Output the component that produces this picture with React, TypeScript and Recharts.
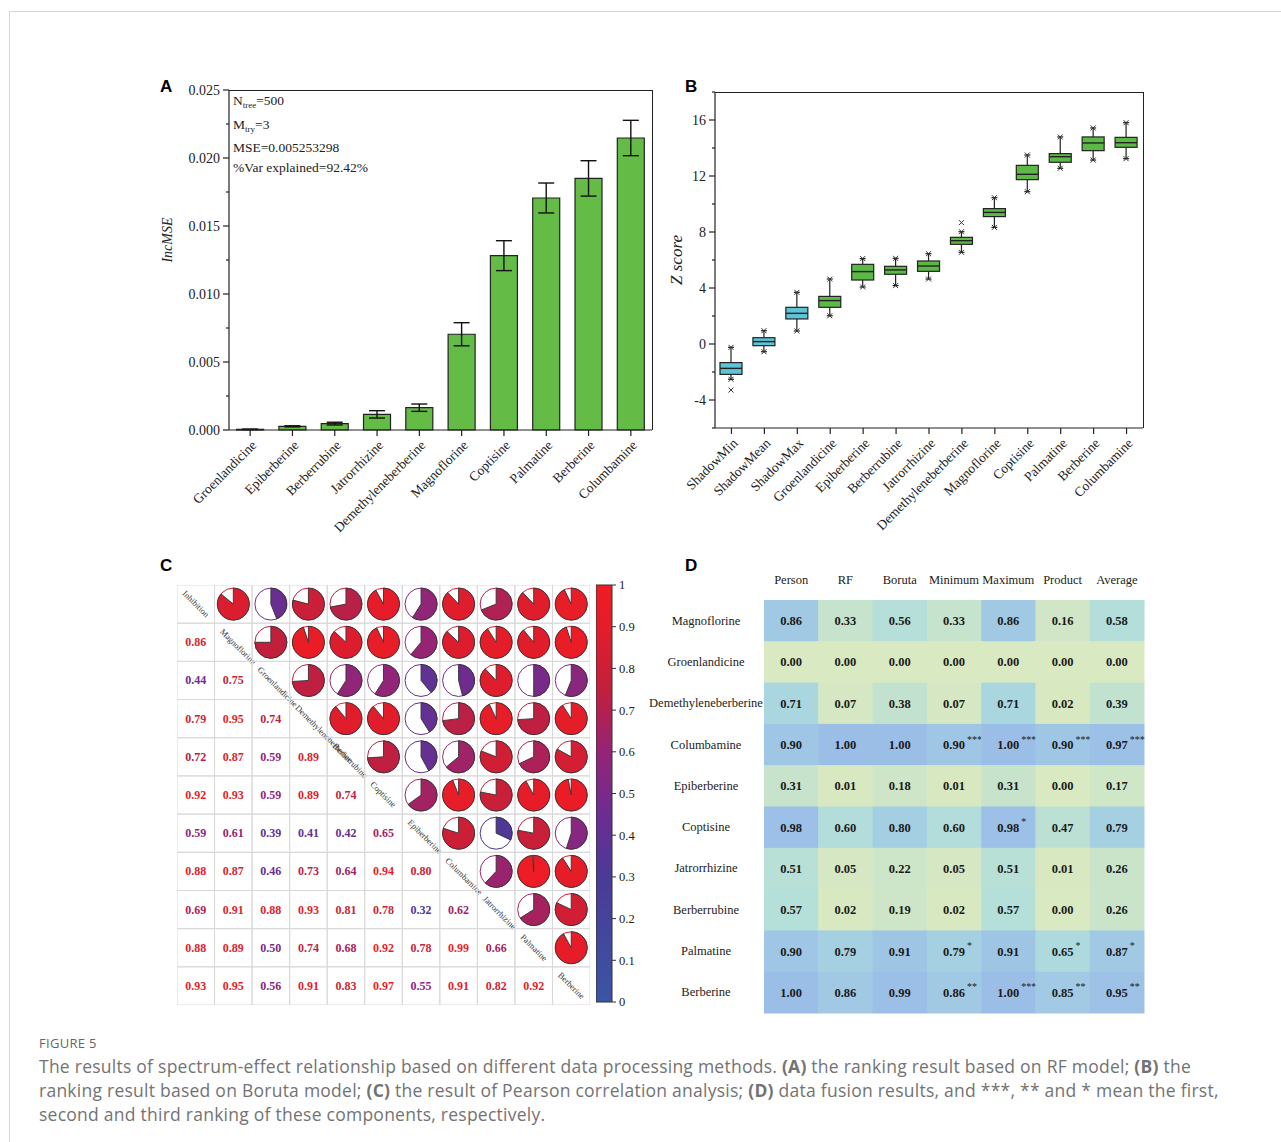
import React from "react";
import {
  BarChart,
  Bar,
  XAxis,
  YAxis,
  ErrorBar,
  ScatterChart,
  Scatter,
  Sector,
} from "recharts";

// ---------- panel A: RF importance ----------
const rfNames = [
  "Groenlandicine", "Epiberberine", "Berberrubine", "Jatrorrhizine", "Demethyleneberberine",
  "Magnoflorine", "Coptisine", "Palmatine", "Berberine", "Columbamine",
];
const rfIncMSE = [0.00005, 0.00027, 0.00047, 0.00115, 0.00164, 0.00704, 0.01282, 0.01706, 0.0185, 0.02147];
const rfError = [0.00001, 0.00004, 0.0001, 0.00027, 0.00027, 0.00085, 0.0011, 0.0011, 0.0013, 0.0013];
const rfTicks = [0, 0.0025, 0.005, 0.0075, 0.01, 0.0125, 0.015, 0.0175, 0.02, 0.0225, 0.025];

// ---------- panel B: Boruta z scores ----------
const borutaNames = [
  "ShadowMin", "ShadowMean", "ShadowMax", "Groenlandicine", "Epiberberine", "Berberrubine",
  "Jatrorrhizine", "Demethyleneberberine", "Magnoflorine", "Coptisine", "Palmatine", "Berberine", "Columbamine",
];
const borutaMin = [-2.52, -0.55, 0.93, 2.02, 4.07, 4.17, 4.64, 6.55, 8.33, 10.88, 12.55, 13.14, 13.24];
const borutaQ1 = [-2.17, -0.12, 1.79, 2.62, 4.57, 4.98, 5.19, 7.12, 9.1, 11.74, 12.98, 13.81, 14.05];
const borutaMedian = [-1.74, 0.17, 2.19, 3.1, 5.17, 5.29, 5.57, 7.38, 9.4, 12.12, 13.38, 14.36, 14.38];
const borutaQ3 = [-1.33, 0.45, 2.62, 3.4, 5.69, 5.55, 5.93, 7.62, 9.67, 12.76, 13.6, 14.79, 14.76];
const borutaMax = [-0.24, 0.95, 3.69, 4.64, 6.1, 6.12, 6.45, 8.02, 10.45, 13.5, 14.79, 15.43, 15.81];
const borutaOutliers = [[-3.29], [], [], [], [], [], [], [8.67], [], [], [], [], []];
const borutaShadow = [true, true, true, false, false, false, false, false, false, false, false, false, false];
const borutaTicks = [-6, -4, -2, 0, 2, 4, 6, 8, 10, 12, 14, 16, 18];

// ---------- panel C: Pearson correlation ----------
const corrNames = [
  "Inhibition", "Magnoflorine", "Groenlandicine", "Demethyleneberberine", "Berberrubine", "Coptisine",
  "Epiberberine", "Columbamine", "Jatrorrhizine", "Palmatine", "Berberine",
];
const corrLower = [
  [],
  [0.86],
  [0.44, 0.75],
  [0.79, 0.95, 0.74],
  [0.72, 0.87, 0.59, 0.89],
  [0.92, 0.93, 0.59, 0.89, 0.74],
  [0.59, 0.61, 0.39, 0.41, 0.42, 0.65],
  [0.88, 0.87, 0.46, 0.73, 0.64, 0.94, 0.8],
  [0.69, 0.91, 0.88, 0.93, 0.81, 0.78, 0.32, 0.62],
  [0.88, 0.89, 0.5, 0.74, 0.68, 0.92, 0.78, 0.99, 0.66],
  [0.93, 0.95, 0.56, 0.91, 0.83, 0.97, 0.55, 0.91, 0.82, 0.92],
];
const colorbarTicks = [0, 0.1, 0.2, 0.3, 0.4, 0.5, 0.6, 0.7, 0.8, 0.9, 1];

// ---------- panel D: data fusion ----------
const fusionCols = ["Person", "RF", "Boruta", "Minimum", "Maximum", "Product", "Average"];
const fusionRows = [
  "Magnoflorine", "Groenlandicine", "Demethyleneberberine", "Columbamine", "Epiberberine",
  "Coptisine", "Jatrorrhizine", "Berberrubine", "Palmatine", "Berberine",
];
const fusionValues = [
  [0.86, 0.33, 0.56, 0.33, 0.86, 0.16, 0.58],
  [0, 0, 0, 0, 0, 0, 0],
  [0.71, 0.07, 0.38, 0.07, 0.71, 0.02, 0.39],
  [0.9, 1.0, 1.0, 0.9, 1.0, 0.9, 0.97],
  [0.31, 0.01, 0.18, 0.01, 0.31, 0.0, 0.17],
  [0.98, 0.6, 0.8, 0.6, 0.98, 0.47, 0.79],
  [0.51, 0.05, 0.22, 0.05, 0.51, 0.01, 0.26],
  [0.57, 0.02, 0.19, 0.02, 0.57, 0.0, 0.26],
  [0.9, 0.79, 0.91, 0.79, 0.91, 0.65, 0.87],
  [1.0, 0.86, 0.99, 0.86, 1.0, 0.85, 0.95],
];
const fusionStars = [
  ["", "", "", "", "", "", ""],
  ["", "", "", "", "", "", ""],
  ["", "", "", "", "", "", ""],
  ["", "", "", "***", "***", "***", "***"],
  ["", "", "", "", "", "", ""],
  ["", "", "", "", "*", "", ""],
  ["", "", "", "", "", "", ""],
  ["", "", "", "", "", "", ""],
  ["", "", "", "*", "", "*", "*"],
  ["", "", "", "**", "***", "**", "**"],
];

const serif = '"Liberation Serif", "Times New Roman", serif';
const sans = '"Liberation Sans", Arial, sans-serif';

const corrStops: [number, string][] = [
  [0, "#3b55a4"], [0.3, "#4b3a98"], [0.45, "#6c2d91"], [0.6, "#942476"],
  [0.75, "#c21f3d"], [0.9, "#e41d2a"], [1, "#ef1c24"],
];
const fusionStops: [number, string][] = [
  [0, "#d9e9c1"], [0.3, "#c8e3cb"], [0.55, "#b6e0d8"], [0.75, "#a7d3e1"], [0.9, "#9fc6e5"], [1, "#9bbee7"],
];

function hex(c: string) {
  return [1, 3, 5].map((i) => parseInt(c.slice(i, i + 2), 16));
}
function colorAt(stops: [number, string][], v: number) {
  for (let k = 1; k < stops.length; k++) {
    if (v <= stops[k][0]) {
      const [a, ca] = stops[k - 1];
      const [b, cb] = stops[k];
      const t = (v - a) / (b - a);
      const A = hex(ca), B = hex(cb);
      return `rgb(${A.map((x, i) => Math.round(x + (B[i] - x) * t)).join(",")})`;
    }
  }
  return stops[stops.length - 1][1];
}

const rfData = rfNames.map((name, i) => ({ name, value: rfIncMSE[i], err: rfError[i] }));
const borutaData = borutaNames.map((name, i) => ({
  name,
  range: [borutaMin[i], borutaMax[i]],
  min: borutaMin[i],
  q1: borutaQ1[i],
  median: borutaMedian[i],
  q3: borutaQ3[i],
  max: borutaMax[i],
  outliers: borutaOutliers[i],
  shadow: borutaShadow[i],
}));

const corrCells: any[] = [];
corrNames.forEach((_, i) =>
  corrNames.forEach((__, j) => {
    const v = i > j ? corrLower[i][j] : i < j ? corrLower[j][i] : 1;
    corrCells.push({ x: j + 0.5, y: i + 0.5, v, kind: i > j ? "text" : i < j ? "pie" : "diag", name: corrNames[i] });
  })
);

const fusionCells: any[] = [];
fusionRows.forEach((r, i) =>
  fusionCols.forEach((c, j) => {
    fusionCells.push({ x: j + 0.5, y: i + 0.5, v: fusionValues[i][j], star: fusionStars[i][j] });
  })
);

// ---------- tick renderers ----------
const LeftTick = (props: any) => {
  const { x, y, payload, step, fmt } = props;
  const major = Math.abs(payload.value / step - Math.round(payload.value / step)) < 1e-6;
  return (
    <g>
      <line x1={x - (major ? 6 : 3)} x2={x} y1={y} y2={y} stroke="#222" strokeWidth={1.2} />
      {major && (
        <text x={x - 9} y={y} dy={4.5} textAnchor="end" fontFamily={serif} fontSize={14} fill="#222">
          {fmt(payload.value)}
        </text>
      )}
    </g>
  );
};

const RotTick = (props: any) => {
  const { x, y, payload } = props;
  return (
    <g>
      <line x1={x} x2={x} y1={y} y2={y + 6} stroke="#222" strokeWidth={1.2} />
      <text
        x={x + 7}
        y={y + 16}
        textAnchor="end"
        fontFamily={serif}
        fontSize={13.5}
        fill="#222"
        transform={`rotate(-45, ${x + 7}, ${y + 16})`}
      >
        {payload.value}
      </text>
    </g>
  );
};

// ---------- box plot shape ----------
const BoxShape = (props: any) => {
  const { x, y, width, height, payload } = props;
  const top = Math.min(y, y + height);
  const h = Math.abs(height);
  const span = payload.max - payload.min;
  const py = (v: number) => top + (h * (payload.max - v)) / span;
  const cx = x + width / 2;
  const fill = payload.shadow ? "#5bc4d6" : "#5cb946";
  const cross = (yy: number, key: string) => (
    <g key={key} stroke="#333" strokeWidth={1}>
      <line x1={cx - 2.5} x2={cx + 2.5} y1={yy - 2.5} y2={yy + 2.5} />
      <line x1={cx - 2.5} x2={cx + 2.5} y1={yy + 2.5} y2={yy - 2.5} />
    </g>
  );
  return (
    <g>
      <line x1={cx} x2={cx} y1={py(payload.max)} y2={py(payload.q3)} stroke="#222" strokeWidth={1.2} />
      <line x1={cx} x2={cx} y1={py(payload.q1)} y2={py(payload.min)} stroke="#222" strokeWidth={1.2} />
      <line x1={cx - 3} x2={cx + 3} y1={py(payload.max)} y2={py(payload.max)} stroke="#222" strokeWidth={1.2} />
      <line x1={cx - 3} x2={cx + 3} y1={py(payload.min)} y2={py(payload.min)} stroke="#222" strokeWidth={1.2} />
      <rect
        x={x}
        y={py(payload.q3)}
        width={width}
        height={py(payload.q1) - py(payload.q3)}
        fill={fill}
        stroke="#222"
        strokeWidth={1.2}
      />
      <line x1={x} x2={x + width} y1={py(payload.median)} y2={py(payload.median)} stroke="#222" strokeWidth={1.4} />
      {cross(py(payload.max), "mx")}
      {cross(py(payload.min), "mn")}
      {payload.outliers.map((o: number, k: number) => cross(py(o), "o" + k))}
    </g>
  );
};

// ---------- correlation cell ----------
const CW = 413 / 11;
const CH = 420 / 11;
const CorrCell = (props: any) => {
  const { cx, cy, payload } = props;
  const color = colorAt(corrStops, payload.v);
  const r = 16;
  return (
    <g>
      <rect x={cx - CW / 2} y={cy - CH / 2} width={CW} height={CH} fill="none" stroke="#d9d9d9" strokeWidth={1} />
      {payload.kind === "text" && (
        <text x={cx} y={cy} dy={4} textAnchor="middle" fontFamily={serif} fontWeight="bold" fontSize={12} fill={color}>
          {payload.v.toFixed(2)}
        </text>
      )}
      {payload.kind === "pie" && (
        <g>
          <circle cx={cx} cy={cy} r={r} fill="#fff" stroke={color} strokeWidth={1} />
          <Sector
            cx={cx}
            cy={cy}
            innerRadius={0}
            outerRadius={r}
            startAngle={90}
            endAngle={90 - 360 * payload.v}
            fill={color}
            stroke="#333"
            strokeWidth={0.9}
          />
        </g>
      )}
      {payload.kind === "diag" && (
        <text
          x={cx - CW / 2 + 5}
          y={cy - CH / 2 + 9}
          fontFamily={serif}
          fontSize={8.5}
          fill="#333"
          transform={`rotate(45, ${cx - CW / 2 + 5}, ${cy - CH / 2 + 9})`}
        >
          {payload.name}
        </text>
      )}
    </g>
  );
};

// ---------- fusion cell ----------
const FW = 380 / 7;
const FH = 413 / 10;
const FusionCell = (props: any) => {
  const { cx, cy, payload } = props;
  return (
    <g>
      <rect x={cx - FW / 2} y={cy - FH / 2} width={FW + 0.5} height={FH + 0.5} fill={colorAt(fusionStops, payload.v)} />
      <text x={cx} y={cy} dy={4.5} textAnchor="middle" fontFamily={serif} fontWeight="bold" fontSize={12.5} fill="#1a1a1a">
        {payload.v.toFixed(2)}
      </text>
      {payload.star && (
        <text x={cx + 13} y={cy - 2} textAnchor="start" fontFamily={serif} fontSize={10} fill="#1a1a1a">
          {payload.star}
        </text>
      )}
    </g>
  );
};

const FusionColTick = (props: any) => {
  const { x, y, payload } = props;
  return (
    <text x={x} y={y - 16} textAnchor="middle" fontFamily={serif} fontSize={12.5} fill="#222">
      {fusionCols[Math.floor(payload.value)]}
    </text>
  );
};
const FusionRowTick = (props: any) => {
  const { x, y, payload } = props;
  return (
    <text x={x - 58} y={y} dy={4} textAnchor="middle" fontFamily={serif} fontSize={12.5} fill="#222">
      {fusionRows[Math.floor(payload.value)]}
    </text>
  );
};

const panelLetter = (t: string, left: number, top: number) => (
  <div
    style={{ position: "absolute", left, top, fontFamily: sans, fontWeight: "bold", fontSize: 17, lineHeight: "17px" }}
  >
    {t}
  </div>
);

const rotLabel = (t: string, left: number, top: number, size: number) => (
  <div
    style={{
      position: "absolute",
      left,
      top,
      transform: "translate(-50%, -50%) rotate(-90deg)",
      fontFamily: serif,
      fontStyle: "italic",
      fontSize: size,
      whiteSpace: "nowrap",
      color: "#222",
    }}
  >
    {t}
  </div>
);

// top and right edges of the plot frames
const frame = (left: number, top: number, width: number, height: number) => (
  <div
    style={{
      position: "absolute",
      left,
      top,
      width,
      height,
      borderTop: "1.2px solid #222",
      borderRight: "1.2px solid #222",
      boxSizing: "border-box",
      pointerEvents: "none",
    }}
  />
);

const annot = { position: "absolute" as const, left: 233, fontFamily: serif, fontSize: 13.5, color: "#222", lineHeight: "14px", whiteSpace: "nowrap" as const };
const subS = { fontSize: 9, verticalAlign: "-3px" };
const capLine = {
  position: "absolute" as const,
  left: 39,
  fontFamily: '"Open Sans", sans-serif',
  fontSize: 17.5,
  letterSpacing: 0.25,
  lineHeight: "24px",
  color: "#737373",
  whiteSpace: "nowrap" as const,
};

export default function App() {
  return (
    <div style={{ position: "absolute", left: 0, top: 0, width: 1281, height: 1142, background: "#fff", overflow: "hidden" }}>
      <div style={{ position: "absolute", left: 9, top: 11, width: 1290, height: 1200, borderTop: "1px solid #d6d6d6", borderLeft: "1px solid #d6d6d6" }} />

      {/* A */}
      {panelLetter("A", 160, 78)}
      <div style={{ position: "absolute", left: 150, top: 80 }}>
        <BarChart width={520} height={470} data={rfData} margin={{ top: 10, right: 18, left: 19, bottom: 20 }} barCategoryGap="18%">
          <XAxis dataKey="name" interval={0} height={100} tickSize={0} tickMargin={0} axisLine={{ stroke: "#222", strokeWidth: 1.2 }} tick={<RotTick />} />
          <YAxis
            domain={[0, 0.025]}
            ticks={rfTicks}
            interval={0}
            width={60}
            tickSize={0}
            tickMargin={0}
            axisLine={{ stroke: "#222", strokeWidth: 1.2 }}
            tick={<LeftTick step={0.005} fmt={(v: number) => v.toFixed(3)} />}
          />
          <Bar dataKey="value" fill="#64bc46" stroke="#222" strokeWidth={1.2} isAnimationActive={false}>
            <ErrorBar dataKey="err" width={8} stroke="#111" strokeWidth={1.4} direction="y" />
          </Bar>
        </BarChart>
      </div>
      {frame(229, 90, 423.6, 340)}
      {rotLabel("IncMSE", 168, 240, 14)}
      <div style={{ ...annot, top: 94 }}>N<span style={subS}>tree</span>=500</div>
      <div style={{ ...annot, top: 118 }}>M<span style={subS}>try</span>=3</div>
      <div style={{ ...annot, top: 141 }}>MSE=0.005253298</div>
      <div style={{ ...annot, top: 161 }}>%Var explained=92.42%</div>

      {/* B */}
      {panelLetter("B", 685, 78)}
      <div style={{ position: "absolute", left: 660, top: 80 }}>
        <BarChart width={500} height={470} data={borutaData} margin={{ top: 12, right: 17, left: 0, bottom: 22 }}>
          <XAxis dataKey="name" interval={0} height={100} tickSize={0} tickMargin={0} axisLine={{ stroke: "#222", strokeWidth: 1.2 }} tick={<RotTick />} />
          <YAxis
            domain={[-6, 18]}
            ticks={borutaTicks}
            interval={0}
            width={55}
            tickSize={0}
            tickMargin={0}
            axisLine={{ stroke: "#222", strokeWidth: 1.2 }}
            tick={<LeftTick step={4} fmt={(v: number) => String(v)} />}
          />
          <Bar dataKey="range" barSize={22} shape={<BoxShape />} isAnimationActive={false} />
        </BarChart>
      </div>
      {frame(715, 92, 428.6, 336)}
      {rotLabel("Z score", 677, 260, 17)}

      {/* C */}
      {panelLetter("C", 160, 557)}
      <div style={{ position: "absolute", left: 177, top: 585 }}>
        <ScatterChart width={413} height={420} margin={{ top: 0, right: 0, bottom: 0, left: 0 }}>
          <XAxis type="number" dataKey="x" domain={[0, 11]} hide />
          <YAxis type="number" dataKey="y" domain={[0, 11]} reversed hide width={0} />
          <Scatter data={corrCells} shape={<CorrCell />} isAnimationActive={false} />
        </ScatterChart>
      </div>
      <div style={{ position: "absolute", left: 596, top: 575 }}>
        <BarChart width={52} height={437} data={[{ name: "r", v: 1 }]} margin={{ top: 10, right: 0, bottom: 10, left: 0 }} barCategoryGap={0}>
          <defs>
            <linearGradient id="corrGrad" x1="0" y1="0" x2="0" y2="1">
              {corrStops.map(([o, c]) => (
                <stop key={o} offset={1 - o} stopColor={c} />
              )).reverse()}
            </linearGradient>
          </defs>
          <XAxis dataKey="name" hide />
          <YAxis
            orientation="right"
            domain={[0, 1]}
            ticks={colorbarTicks}
            interval={0}
            width={36}
            tickSize={4}
            tickMargin={3}
            axisLine={false}
            tickLine={{ stroke: "#333" }}
            tick={{ fontFamily: serif, fontSize: 12.5, fill: "#222" }}
            tickFormatter={(v: number) => String(Math.round(v * 10) / 10)}
          />
          <Bar dataKey="v" fill="url(#corrGrad)" stroke="#333" strokeWidth={1} isAnimationActive={false} />
        </BarChart>
      </div>

      {/* D */}
      {panelLetter("D", 685, 557)}
      <div style={{ position: "absolute", left: 640, top: 560 }}>
        <ScatterChart width={520} height={460} margin={{ top: 0, right: 16, bottom: 7, left: 0 }}>
          <XAxis
            type="number"
            dataKey="x"
            orientation="top"
            domain={[0, 7]}
            ticks={[0.5, 1.5, 2.5, 3.5, 4.5, 5.5, 6.5]}
            interval={0}
            height={40}
            tickSize={0}
            tickMargin={0}
            axisLine={false}
            tick={<FusionColTick />}
          />
          <YAxis
            type="number"
            dataKey="y"
            domain={[0, 10]}
            reversed
            ticks={[0.5, 1.5, 2.5, 3.5, 4.5, 5.5, 6.5, 7.5, 8.5, 9.5]}
            interval={0}
            width={124}
            tickSize={0}
            tickMargin={0}
            axisLine={false}
            tick={<FusionRowTick />}
          />
          <Scatter data={fusionCells} shape={<FusionCell />} isAnimationActive={false} />
        </ScatterChart>
      </div>

      {/* caption */}
      <div style={{ position: "absolute", left: 39, top: 1034, fontFamily: '"Open Sans", sans-serif', fontSize: 13, color: "#666", letterSpacing: 0.3 }}>
        FIGURE 5
      </div>
      <div style={{ ...capLine, top: 1054 }}>
        The results of spectrum-effect relationship based on different data processing methods. <b>(A)</b> the ranking result based on RF model; <b>(B)</b> the
      </div>
      <div style={{ ...capLine, top: 1078 }}>
        ranking result based on Boruta model; <b>(C)</b> the result of Pearson correlation analysis; <b>(D)</b> data fusion results, and ***, ** and * mean the first,
      </div>
      <div style={{ ...capLine, top: 1102 }}>second and third ranking of these components, respectively.</div>
    </div>
  );
}
